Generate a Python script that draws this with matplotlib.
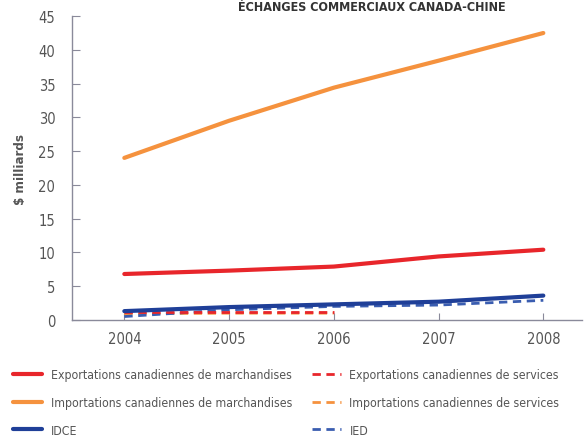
import matplotlib
matplotlib.use("Agg")
import matplotlib.pyplot as plt

years = [2004, 2005, 2006, 2007, 2008]
exp_merch = [6.8, 7.3, 7.9, 9.4, 10.4]
imp_merch = [24.0, 29.5, 34.4, 38.4, 42.5]
idce = [1.3, 1.9, 2.3, 2.7, 3.6]
serv_years = [2004, 2005, 2006]
exp_serv = [1.2, 1.2, 1.2]
imp_serv = [0.9, 1.0, 1.0]
ied = [0.5, 1.5, 2.0, 2.2, 2.9]

title = "ÉCHANGES COMMERCIAUX CANADA-CHINE"
ylabel = "\\$ milliards"
labels = ["Exportations canadiennes de marchandises",
          "Importations canadiennes de marchandises",
          "IDCE",
          "Exportations canadiennes de services",
          "Importations canadiennes de services",
          "IED"]

plt.rcParams['font.family'] = ['DejaVu Sans']
plt.rcParams['font.stretch'] = 'condensed'

RED = "#e8262b"
ORANGE = "#f5923e"
BLUE = "#1f3f98"
GREY = "#555555"

fig = plt.figure(figsize=(5.85, 4.39), dpi=100)
ax = fig.add_axes([0.123, 0.269, 0.872, 0.692])

l4, = ax.plot(serv_years, imp_serv, color=ORANGE, lw=2.0, ls=(0, (3, 2)))
l6, = ax.plot(years, ied, color="#3a5db0", lw=2.0, ls=(0, (3, 2)))
l5, = ax.plot(serv_years, exp_serv, color=RED, lw=2.0, ls=(0, (3, 2)))
l1, = ax.plot(years, exp_merch, color=RED, lw=3.0, solid_capstyle='round')
l2, = ax.plot(years, imp_merch, color=ORANGE, lw=3.0, solid_capstyle='round')
l3, = ax.plot(years, idce, color=BLUE, lw=3.0, solid_capstyle='round')

ax.set_xlim(2003.5, 2008.37)
ax.set_ylim(0, 45)
ax.set_yticks(range(0, 46, 5))
ax.set_xticks(years)
for s in ['top', 'right']:
    ax.spines[s].set_visible(False)
for s in ['left', 'bottom']:
    ax.spines[s].set_color("#8a8a9a")
    ax.spines[s].set_linewidth(1.0)
ax.tick_params(axis='y', direction='in', length=6, color="#8a8a9a", labelsize=10.5, labelcolor=GREY, pad=12)
ax.tick_params(axis='x', direction='in', length=5, color="#8a8a9a", labelsize=10.5, labelcolor=GREY, pad=8)
ax.set_ylabel(ylabel, fontsize=9.5, fontweight='bold', color=GREY, labelpad=8)

fig.text(0.636, 0.997, title, ha='center', va='top', fontsize=9, fontweight='bold', color="#333333")

fig.legend([l1, l2, l3, l5, l4, l6], labels, ncol=2, loc='upper left',
           bbox_to_anchor=(0.003, 0.184), frameon=False, fontsize=8.8,
           handlelength=2.4, handletextpad=0.7, columnspacing=1.6,
           labelspacing=1.2, labelcolor=GREY)

fig.savefig("out.png", dpi=100, facecolor='white')
